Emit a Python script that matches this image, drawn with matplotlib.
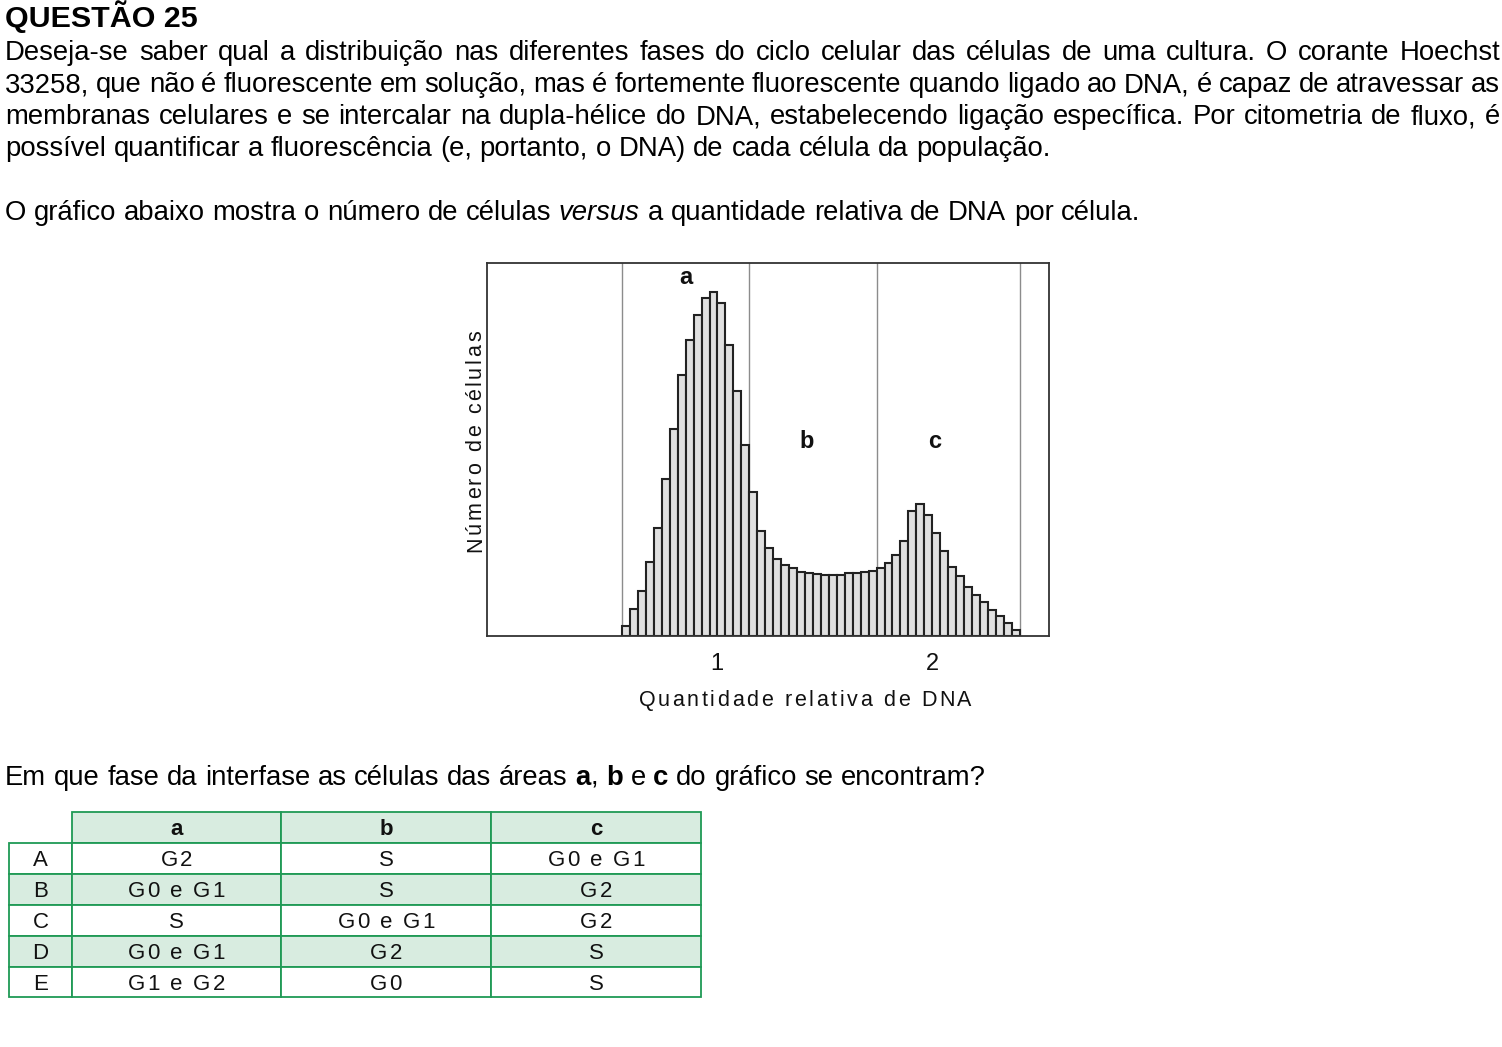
import matplotlib
matplotlib.use("Agg")
import matplotlib.pyplot as plt
from matplotlib.patches import Rectangle

plt.rcParams['font.family'] = ['Liberation Sans Narrow', 'Liberation Sans', 'DejaVu Sans']

W, H = 1502, 1047

# histograma (altura relativa de cada barra)
bin_start = 0.558
bin_width = 0.037
cell_counts = [10, 27, 45, 74, 108, 157, 207, 261, 296, 321,
               338, 344, 333, 291, 245, 191, 144, 105, 88, 77,
               71, 68, 64, 63, 62, 61, 61, 61, 63, 63,
               64, 65, 68, 73, 81, 95, 125, 132, 121, 103,
               85, 69, 60, 49, 41, 34, 26, 20, 13, 6]
phase_limits = [0.558, 1.149, 1.744, 2.409]
phase_names = ['a', 'b', 'c']
phase_label_x = [0.856, 1.419, 2.014]
phase_label_y = [352, 188, 188]
x_ticks = [1, 2]
x_ticklabels = ['1', '2']
x_label = "Quantidade relativa de DNA"
y_label = "Número de células"

title = "QUESTÃO 25"
paragraph = [
    "Deseja-se saber qual a distribuição nas diferentes fases do ciclo celular das células de uma cultura. O corante Hoechst",
    "33258, que não é fluorescente em solução, mas é fortemente fluorescente quando ligado ao DNA, é capaz de atravessar as",
    "membranas celulares e se intercalar na dupla-hélice do DNA, estabelecendo ligação específica. Por citometria de fluxo, é",
    "possível quantificar a fluorescência (e, portanto, o DNA) de cada célula da população.",
]
intro = [("O gráfico abaixo mostra o número de células ", 'normal', 'normal'),
         ("versus", 'normal', 'italic'),
         (" a quantidade relativa de DNA por célula.", 'normal', 'normal')]
question = [("Em que fase da interfase as células das áreas ", 'normal', 'normal'),
            ("a", 'bold', 'normal'), (", ", 'normal', 'normal'),
            ("b", 'bold', 'normal'), (" e ", 'normal', 'normal'),
            ("c", 'bold', 'normal'), (" do gráfico se encontram?", 'normal', 'normal')]

col_headers = ['a', 'b', 'c']
row_labels = ['A', 'B', 'C', 'D', 'E']
options = [['G2', 'S', 'G0 e G1'],
           ['G0 e G1', 'S', 'G2'],
           ['S', 'G0 e G1', 'G2'],
           ['G0 e G1', 'G2', 'S'],
           ['G1 e G2', 'G0', 'S']]

fig = plt.figure(figsize=(W / 100, H / 100), dpi=100)
page = fig.add_axes([0, 0, 1, 1])
page.set_xlim(0, W)
page.set_ylim(H, 0)
page.axis('off')
renderer = fig.canvas.get_renderer()


def text_width(s, size, weight='normal', style='normal'):
    t = page.text(0, 0, s, fontsize=size, fontweight=weight, fontstyle=style)
    w = t.get_window_extent(renderer).width
    t.remove()
    return w


def advance(s, size, weight='normal', style='normal'):
    return (text_width('H' + s + 'H', size, weight, style)
            - text_width('HH', size, weight, style))


def split_runs(runs):
    pieces = []
    for txt, weight, style in runs:
        parts = txt.split(' ')
        for i, p in enumerate(parts):
            if i > 0:
                pieces.append(None)
            if p:
                pieces.append((p, weight, style))
    return pieces


def runs_width(runs, size):
    pieces = split_runs(runs)
    total = 0
    for p in pieces:
        total += advance(' ', size) if p is None else advance(p[0], size, p[1], p[2])
    return total


def draw_runs(x0, y, runs, size, width=None):
    pieces = split_runs(runs)
    widths = [0 if p is None else advance(p[0], size, p[1], p[2]) for p in pieces]
    space = advance(' ', size)
    n_sp = pieces.count(None)
    if width is not None and n_sp:
        space = (width - sum(widths)) / n_sp
    x = x0
    for p, w in zip(pieces, widths):
        if p is None:
            x += space
        else:
            page.text(x, y, p[0], fontsize=size, fontweight=p[1], fontstyle=p[2],
                      ha='left', va='baseline', color='black')
            x += w


def draw_tracked(x, y, s, size, track, rotation=0, weight='normal', color='#111111'):
    advs = [advance(c, size, weight) for c in s]
    length = sum(advs) + track * (len(s) - 1)
    pos = x - length / 2 if rotation == 0 else y + length / 2
    for c, a in zip(s, advs):
        if c != ' ':
            if rotation == 0:
                page.text(pos, y, c, fontsize=size, fontweight=weight, color=color,
                          ha='left', va='baseline')
            else:
                page.text(x, pos, c, fontsize=size, fontweight=weight, color=color,
                          rotation=90, rotation_mode='anchor', ha='left', va='baseline')
        pos = pos + (a + track) if rotation == 0 else pos - (a + track)


def fit_size(runs, target, ref=14):
    return ref * target / runs_width(runs, ref)


# --- texto ---
title_size = fit_size([(title, 'bold', 'normal')], 193, 17)
page.text(5, 27, title, fontsize=title_size, fontweight='bold', ha='left', va='baseline')

body = (fit_size(intro, 1147) + fit_size(question, 992)) / 2
line1 = [(paragraph[0], 'normal', 'normal')]
body = min(body, fit_size(line1, 1470))

for k, (line, base) in enumerate(zip(paragraph, [60, 92, 124, 156])):
    runs = [(line, 'normal', 'normal')]
    draw_runs(5, base, runs, body, width=1495 if k < 3 else None)
draw_runs(5, 220, intro, body)
draw_runs(5, 785, question, body)

# --- histograma ---
ax = fig.add_axes([487 / W, (H - 636) / H, 562 / W, 373 / H])
lefts = [bin_start + i * bin_width for i in range(len(cell_counts))]
ax.bar(lefts, cell_counts, width=bin_width, align='edge', color='#e0e0e0',
       edgecolor='#222222', linewidth=1.5, zorder=2)
for xv in phase_limits:
    ax.axvline(xv, color='#8c8c8c', linewidth=1.0, zorder=1)
for name, xv, yv in zip(phase_names, phase_label_x, phase_label_y):
    ax.text(xv, yv, name, fontsize=17, fontweight='bold', ha='center', va='baseline', color='#111111')
ax.set_xlim(-0.07, 2.544)
ax.set_ylim(0, 373)
ax.set_yticks([])
ax.set_xticks(x_ticks)
ax.set_xticklabels(x_ticklabels, fontsize=17, color='#111111')
ax.tick_params(axis='x', length=0, pad=12)
for sp in ax.spines.values():
    sp.set_color('#333333')
    sp.set_linewidth(1.3)

label_size = 15.5
track = (333 - sum(advance(c, label_size) for c in x_label)) / (len(x_label) - 1)
draw_tracked(805, 706, x_label, label_size, track)
draw_tracked(481, 441, y_label, label_size, track, rotation=90)

# --- tabela ---
green = '#1f9a55'
fill = '#d8ece0'
col_x = [9, 72, 281, 491, 701]
row_y = [812, 843, 874, 905, 936, 967, 997]
cell_size = 16
cap = 0.716 * cell_size * 100 / 72

for j, head in enumerate(col_headers):
    page.add_patch(Rectangle((col_x[j + 1], row_y[0]), col_x[j + 2] - col_x[j + 1],
                             row_y[1] - row_y[0], facecolor=fill, edgecolor=green, linewidth=1.3))
    page.text((col_x[j + 1] + col_x[j + 2]) / 2, (row_y[0] + row_y[1]) / 2 + cap / 2, head,
              fontsize=16, fontweight='bold', ha='center', va='baseline', color='#111111')

for i, (lab, row) in enumerate(zip(row_labels, options)):
    bg = fill if i % 2 == 1 else 'white'
    y0, y1 = row_y[i + 1], row_y[i + 2]
    base = (y0 + y1) / 2 + cap / 2
    for j in range(4):
        page.add_patch(Rectangle((col_x[j], y0), col_x[j + 1] - col_x[j], y1 - y0,
                                 facecolor=bg, edgecolor=green, linewidth=1.3))
    page.text((col_x[0] + col_x[1]) / 2, base, lab, fontsize=cell_size,
              ha='center', va='baseline', color='#111111')
    for j, val in enumerate(row):
        draw_tracked((col_x[j + 1] + col_x[j + 2]) / 2, base, val, cell_size, track * 0.8)

fig.savefig('out.png', dpi=100)
